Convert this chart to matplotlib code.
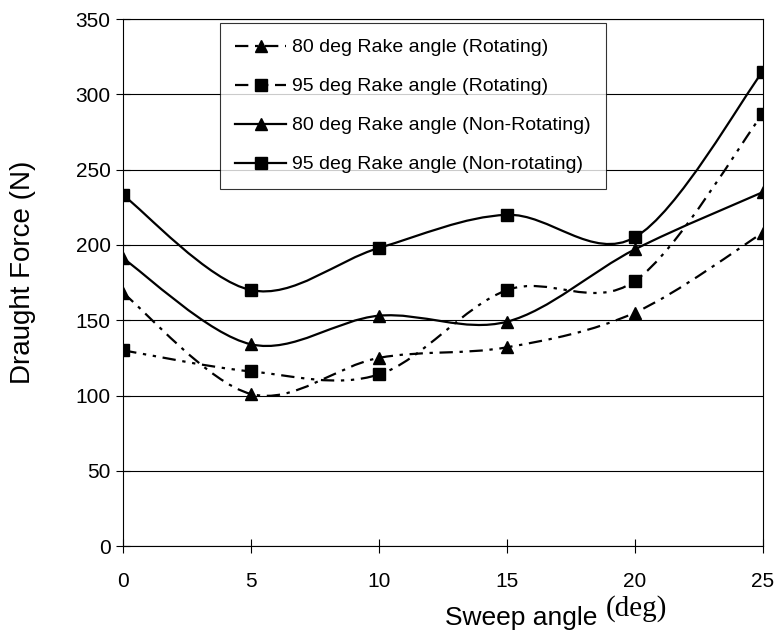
import matplotlib.pyplot as plt
from matplotlib.path import Path
from matplotlib.patches import PathPatch
from matplotlib.lines import Line2D

plt.rcParams['font.family'] = ['Liberation Sans', 'DejaVu Sans']

sweep = [0, 5, 10, 15, 20, 25]
rot80 = [168, 101, 125, 132, 155, 208]
rot95 = [130, 116, 114, 170, 176, 287]
non80 = [191, 134, 153, 149, 197, 235]
non95 = [233, 170, 198, 220, 205, 315]

labels = ['80 deg Rake angle (Rotating)', '95 deg Rake angle (Rotating)',
          '80 deg Rake angle (Non-Rotating)', '95 deg Rake angle (Non-rotating)']


def smooth_path(xs, ys):
    # Excel style smoothed line, bezier segments through the points
    pts = list(zip(xs, ys))
    verts = [pts[0]]
    codes = [Path.MOVETO]
    n = len(pts)
    for i in range(n - 1):
        p0 = pts[i - 1] if i > 0 else pts[i]
        p1 = pts[i]
        p2 = pts[i + 1]
        p3 = pts[i + 2] if i + 2 < n else pts[i + 1]
        c1 = (p1[0] + (p2[0] - p0[0]) / 6, p1[1] + (p2[1] - p0[1]) / 6)
        c2 = (p2[0] - (p3[0] - p1[0]) / 6, p2[1] - (p3[1] - p1[1]) / 6)
        verts += [c1, c2, p2]
        codes += [Path.CURVE4] * 3
    return Path(verts, codes)


fig = plt.figure(figsize=(7.75, 6.35), dpi=100)
ax = fig.add_axes([0.159, 0.140, 0.825, 0.830])

styles = [
    (rot80, '^', (0, (6, 3, 1.5, 3))),
    (rot95, 's', (0, (6, 3, 1.5, 3, 1.5, 3))),
    (non80, '^', '-'),
    (non95, 's', '-'),
]

handles = []
for (ys, mk, ls), lab in zip(styles, labels):
    ax.add_patch(PathPatch(smooth_path(sweep, ys), facecolor='none',
                           edgecolor='black', lw=1.6, linestyle=ls, zorder=3))
    ax.plot(sweep, ys, linestyle='none', marker=mk, color='black', ms=8, zorder=4)
    handles.append(Line2D([], [], color='black', lw=1.6, linestyle=ls,
                          marker=mk, ms=8, label=lab))

ax.set_xlim(0, 25)
ax.set_ylim(0, 350)
ax.set_xticks(sweep)
ax.set_yticks(range(0, 351, 50))
ax.yaxis.grid(True, color='black', lw=0.8)
ax.set_axisbelow(True)
for s in ax.spines.values():
    s.set_linewidth(0.8)
ax.tick_params(labelsize=15, direction='inout', length=10, width=0.8)
ax.tick_params(axis='x', pad=14)
ax.tick_params(axis='y', pad=4)

ax.set_ylabel('Draught Force (N)', fontsize=20)
ax.yaxis.set_label_coords(-0.137, 0.52)
fig.text(0.672, 0.016, 'Sweep angle', fontsize=19, ha='center', va='baseline')
fig.text(0.782, 0.03, '(deg)', fontsize=21, va='baseline',
         family=['Liberation Serif', 'DejaVu Serif'])

leg = ax.legend(handles=handles, loc='upper left', bbox_to_anchor=(0.151, 0.992),
                borderaxespad=0, fontsize=14, frameon=True, fancybox=False,
                edgecolor='black', handlelength=2.6, labelspacing=1.1,
                borderpad=0.8, handletextpad=0.3)
leg.get_frame().set_linewidth(0.8)

fig.savefig('out.png', dpi=100)
